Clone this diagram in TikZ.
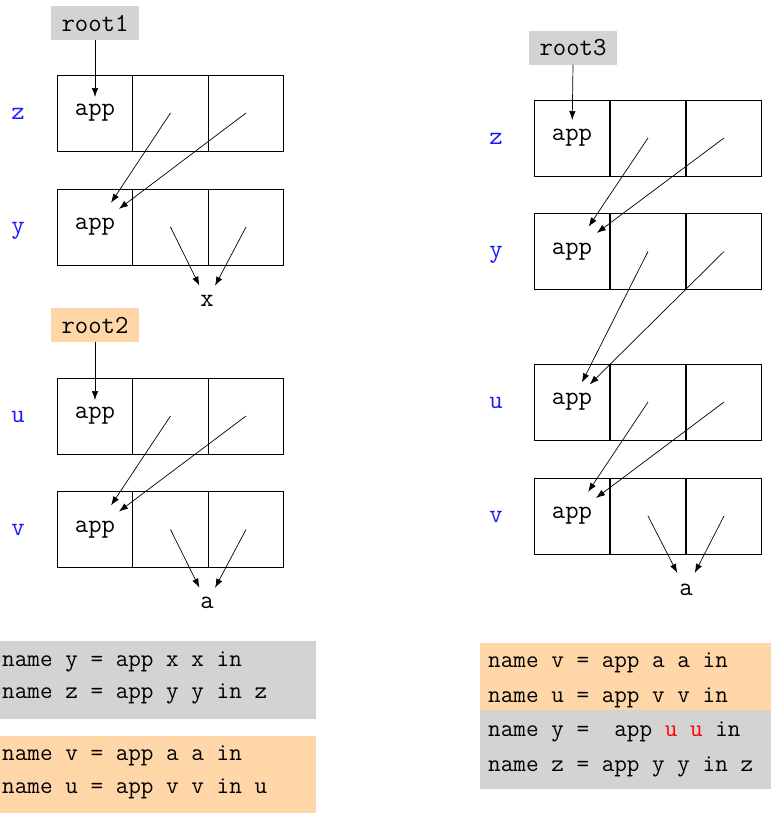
\documentclass[tikz,border=0pt]{standalone}
\usepackage{fontspec}
\usetikzlibrary{arrows.meta}
\definecolor{lgray}{RGB}{211,211,211}
\definecolor{peach}{RGB}{255,214,168}
\definecolor{lblue}{RGB}{25,25,255}
\begin{document}
\begin{tikzpicture}[x=1pt,y=-1pt,
  dfont/.style={font=\fontsize{26}{30}\selectfont\ttfamily},
  cell/.style={draw, line width=0.9pt, minimum width=75.7pt, minimum height=76pt, inner sep=0pt, dfont},
  rootbox/.style={minimum width=88pt, minimum height=34pt, inner sep=0pt, dfont},
  lab/.style={dfont, text=lblue, anchor=base, inner sep=0pt},
  target/.style={dfont, circle, minimum size=34pt, inner sep=0pt},
  arr/.style={line width=0.7pt, -{Latex[length=9pt,width=6.5pt]}},
  code/.style={font=\fontsize{24.5}{28}\selectfont\ttfamily, anchor=base west, inner sep=0pt}
]
\useasboundingbox (0,0) rectangle (771,814);

% ---------- left: root1 ----------
\node[rootbox, fill=lgray] (root1) at (95,23) {root1};
\node[lab] (lzl) at (18,119) {z};
\node[cell] (lz1) at (95,113) {app};
\node[cell] (lz2) at (170.5,113) {};
\node[cell] (lz3) at (246,113) {};
\node[lab] (lyl) at (18,233) {y};
\node[cell] (ly1) at (95,227) {app};
\node[cell] (ly2) at (170.5,227) {};
\node[cell] (ly3) at (246,227) {};
\node[target] (lx) at (207,301) {x};

\draw[arr, shorten >=16pt] (root1.south) -- (lz1.center);
\draw[arr, shorten >=29pt] (lz2.center) -- (ly1.center);
\draw[arr, shorten >=30pt] (lz3.center) -- (ly1.center);
\draw[arr] (ly2.center) -- (lx);
\draw[arr] (ly3.center) -- (lx);

% ---------- left: root2 ----------
\node[rootbox, fill=peach] (root2) at (95,325) {root2};
\node[lab] (lul) at (18,422) {u};
\node[cell] (lu1) at (95,416) {app};
\node[cell] (lu2) at (170.5,416) {};
\node[cell] (lu3) at (246,416) {};
\node[lab] (lvl) at (18,535) {v};
\node[cell] (lv1) at (95,529.5) {app};
\node[cell] (lv2) at (170.5,529.5) {};
\node[cell] (lv3) at (246,529.5) {};
\node[target] (la) at (207,603) {a};

\draw[arr, shorten >=16pt] (root2.south) -- (lu1.center);
\draw[arr, shorten >=29pt] (lu2.center) -- (lv1.center);
\draw[arr, shorten >=30pt] (lu3.center) -- (lv1.center);
\draw[arr] (lv2.center) -- (la);
\draw[arr] (lv3.center) -- (la);

% ---------- right: root3 ----------
\node[rootbox, fill=lgray] (root3) at (573,47.5) {root3};
\node[lab] (rzl) at (496,144) {z};
\node[cell] (rz1) at (572,138) {app};
\node[cell] (rz2) at (648,138) {};
\node[cell] (rz3) at (724,138) {};
\node[lab] (ryl) at (496,257.5) {y};
\node[cell] (ry1) at (572,251.5) {app};
\node[cell] (ry2) at (648,251.5) {};
\node[cell] (ry3) at (724,251.5) {};
\node[lab] (rul) at (496,408) {u};
\node[cell] (ru1) at (572,402) {app};
\node[cell] (ru2) at (648,402) {};
\node[cell] (ru3) at (724,402) {};
\node[lab] (rvl) at (496,522) {v};
\node[cell] (rv1) at (572,516) {app};
\node[cell] (rv2) at (648,516) {};
\node[cell] (rv3) at (724,516) {};
\node[target, minimum size=38pt] (ra) at (686,590) {a};

\draw[arr, shorten >=18pt] (root3.south) -- (rz1.center);
\draw[arr, shorten >=30pt] (rz2.center) -- (ry1.center);
\draw[arr, shorten >=31pt] (rz3.center) -- (ry1.center);
\draw[arr, shorten >=22pt] (ry2.center) -- (ru1.center);
\draw[arr, shorten >=25pt] (ry3.center) -- (ru1.center);
\draw[arr, shorten >=29pt] (ru2.center) -- (rv1.center);
\draw[arr, shorten >=30pt] (ru3.center) -- (rv1.center);
\draw[arr] (rv2.center) -- (ra);
\draw[arr] (rv3.center) -- (ra);

% ---------- code blocks ----------
\fill[lgray] (0,641) rectangle (316,719);
\node[code] (c1) at (2,666) {name y = app x x in};
\node[code] (c2) at (2,698) {name z = app y y in z};
\fill[peach] (0,736) rectangle (316,813);
\node[code] (c3) at (2,760) {name v = app a a in};
\node[code] (c4) at (2,793) {name u = app v v in u};

\fill[peach] (480,643) rectangle (771,710);
\fill[lgray] (480,710) rectangle (771,789);
\node[code] (c5) at (488,667) {name v = app a a in};
\node[code] (c6) at (488,702) {name u = app v v in};
\node[code] (c7) at (488,736) {name y =\ \ app \textcolor{red}{u} \textcolor{red}{u} in};
\node[code] (c8) at (488,771) {name z = app y y in z};
\end{tikzpicture}
\end{document}
